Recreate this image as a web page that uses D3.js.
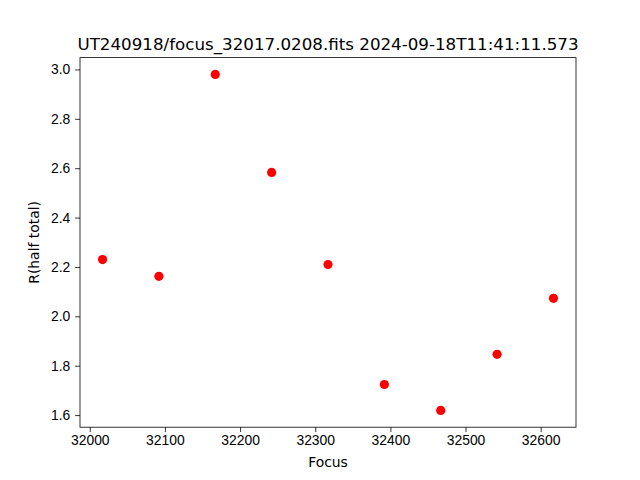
<!DOCTYPE html>
<html>
<head>
<meta charset="utf-8">
<script src="https://cdn.jsdelivr.net/npm/d3@7"></script>
<style>
  body { margin: 0; background: #fff; }
  svg { display: block; font-family: "DejaVu Sans", sans-serif; }
  .tick text { font-size: 13.9px; fill: #000; }
  .tick line { stroke: #000; stroke-width: 0.8; }
  .domain { display: none; }
</style>
</head>
<body>
<svg id="chart" width="640" height="480"></svg>
<script>
var titleText = 'UT240918/focus_32017.0208.fits 2024-09-18T11:41:11.573';
var focusValues = [32017, 32092, 32167, 32242, 32317, 32392, 32467, 32542, 32617];
var radiusValues = [2.23, 2.162, 2.98, 2.583, 2.21, 1.724, 1.619, 1.846, 2.073];
var xTicks = [32000, 32100, 32200, 32300, 32400, 32500, 32600];
var yTicks = [1.6, 1.8, 2.0, 2.2, 2.4, 2.6, 2.8, 3.0];

var margin = { left: 80, right: 64, top: 57.6, bottom: 52.8 };
var width = 640 - margin.left - margin.right;
var height = 480 - margin.top - margin.bottom;

// matplotlib style 5% margins around the data
var pad = function(ext) {
  var d = ext[1] - ext[0];
  return [ext[0] - 0.05 * d, ext[1] + 0.05 * d];
};

var x = d3.scaleLinear().domain(pad(d3.extent(focusValues))).range([0, width]);
var y = d3.scaleLinear().domain(pad(d3.extent(radiusValues))).range([height, 0]);

var svg = d3.select('#chart');
var g = svg.append('g').attr('transform', 'translate(' + margin.left + ',' + margin.top + ')');

g.append('g')
  .attr('transform', 'translate(0,' + height + ')')
  .call(d3.axisBottom(x).tickValues(xTicks).tickFormat(d3.format('d')).tickSize(4.86).tickPadding(3.2))
  .selectAll('text').attr('dy', '0.71em');

g.append('g')
  .call(d3.axisLeft(y).tickValues(yTicks).tickFormat(d3.format('.1f')).tickSize(4.86).tickPadding(4.86));

g.selectAll('circle.pt')
  .data(focusValues)
  .enter().append('circle')
  .attr('class', 'pt')
  .attr('cx', function(d) { return x(d); })
  .attr('cy', function(d, i) { return y(radiusValues[i]); })
  .attr('r', 4.6)
  .attr('fill', '#ff0000');

// axes frame
g.append('rect')
  .attr('width', width)
  .attr('height', height)
  .attr('fill', 'none')
  .attr('stroke', '#000')
  .attr('stroke-width', 0.8);

svg.append('text')
  .attr('x', margin.left + width / 2)
  .attr('y', 49.5)
  .attr('text-anchor', 'middle')
  .style('font-size', '16.7px')
  .text(titleText);

svg.append('text')
  .attr('x', margin.left + width / 2)
  .attr('y', 467)
  .attr('text-anchor', 'middle')
  .style('font-size', '13.9px')
  .text('Focus');

svg.append('text')
  .attr('transform', 'translate(39,' + (margin.top + height / 2) + ') rotate(-90)')
  .attr('text-anchor', 'middle')
  .style('font-size', '13.9px')
  .text('R(half total)');
</script>
</body>
</html>
